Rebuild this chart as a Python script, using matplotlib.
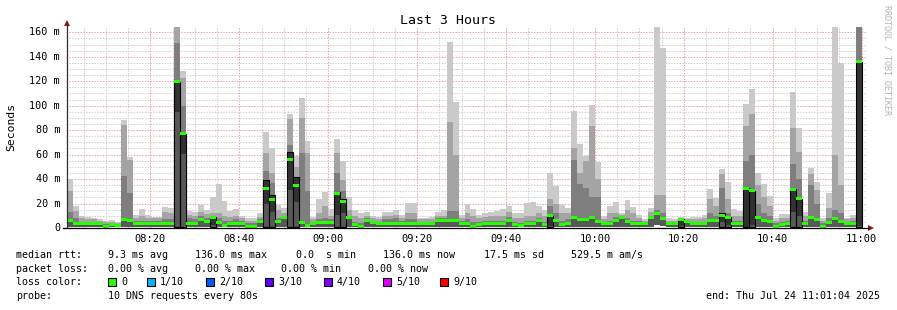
import matplotlib
matplotlib.use("Agg")
import matplotlib.pyplot as plt
from matplotlib.patches import Rectangle, Polygon
from matplotlib.lines import Line2D

# ---------------- data (milliseconds), one bar per 80 s step ----------------
first_bar_minute = 80 / 60          # 08:01:20, minutes after 08:00
step_minutes = 80 / 60
x_start, x_end = 1 + 4 / 60, 181 + 4 / 60   # 08:01:04 .. 11:01:04

rtt_max = [40, 18, 10, 9, 8.5, 7, 6, 6.5, 5, 88, 58, 11, 15.5, 11, 9, 9, 17.4, 16.6, 164, 128.6,
           14, 13.4, 18.8, 14.7, 25.6, 36, 22, 14, 15.5, 10, 8.5, 8.5, 12, 78.5, 65, 18.8, 16.6, 93, 59, 106,
           71, 9.3, 23.4, 29.7, 15.4, 72.8, 54.8, 25.6, 14.7, 12, 13.4, 10, 9, 13.4, 13, 14.4, 10.6, 20.7, 20.7, 8.5,
           8.5, 9, 13.4, 14.4, 152, 103, 10.6, 20, 15.5, 10.6, 12.5, 13.4, 14, 15.5, 18, 12, 12, 20.7, 21.5, 18,
           15, 45, 34, 18.8, 16.6, 95.6, 69, 59, 100.5, 54.2, 9.8, 18, 21.5, 12.5, 23, 17.4, 10.6, 7, 16, 164,
           147.4, 8.4, 7, 9, 8, 9.3, 9.3, 11, 32, 24.8, 48, 38, 15.5, 14, 101.4, 113.6, 44.7, 35.7, 26, 8,
           11.4, 11.4, 111.4, 81.5, 13.4, 49.3, 38, 8.4, 29, 164, 135, 8.4, 10.6, 164]

rtt_p9 = [30, 14, 8, 7, 7, 6, 4.5, 5, 4, 84, 55.6, 8.5, 10, 8, 8.5, 8, 13, 12, 164, 123,
          11, 10, 13.4, 11.4, 12, 12, 10, 9, 10, 8, 6, 6, 9, 61, 45, 14.7, 12, 89, 50, 90,
          61, 7, 12, 18, 10, 61, 39, 15, 10, 8, 10, 8, 7, 10, 10, 11, 8, 12, 12, 7,
          7, 7, 10, 10, 87, 60, 8, 12, 10, 8, 9, 10, 10, 10, 13, 8, 8, 10, 10, 12,
          10, 24, 20, 12, 12, 65.7, 45, 55, 83.4, 40, 7, 12, 12, 11, 15, 12, 8, 6, 13, 27,
          27, 6, 6, 8, 7, 7, 7, 8, 24, 18, 44, 24, 10, 10, 83, 93, 35, 25, 18, 6,
          8, 8, 81.5, 62, 10, 44, 31, 6, 16.6, 60, 35, 7, 8, 164]

rtt_p8 = [13, 8, 5, 5, 5, 5, 3, 4, 3, 42.5, 29, 6, 6, 6, 6, 6, 7, 7, 151, 100,
          8.5, 7, 10, 8, 10, 8, 6, 6, 7, 6, 4, 4, 7, 47, 37, 8, 10, 68, 42, 61,
          30, 5, 7, 8, 7, 45, 30, 10, 5, 4, 8, 6, 5, 7, 7, 8, 6, 7, 7, 5,
          5, 5, 8, 8, 14, 14, 6, 7, 5, 5, 6, 6, 6, 6, 9, 5, 4, 6, 6, 8,
          5, 18, 12, 6, 7, 55.6, 35.7, 33, 25.3, 25, 5, 6, 9, 10, 8, 6, 6, 5, 10, 15,
          12, 5, 5, 7.5, 6, 5, 5, 5, 12, 10, 32.4, 12, 6, 6, 55, 60, 20, 12, 10, 4,
          5, 6, 52, 40, 6, 35, 20, 4, 8, 15, 12, 5, 6, 164]

rtt_median = [5.7, 3.8, 3.8, 3.8, 3.8, 3.8, 1.6, 2.5, 2.2, 6.8, 5.7, 3.8, 3.8, 3.8, 3.8, 3.8, 3.8, 3.8, 119.5, 77,
              3.8, 3.8, 6.8, 5.2, 8.7, 4.3, 2.2, 3.8, 3.8, 3.8, 1.4, 1.5, 5.2, 32, 23.5, 5.2, 8.4, 56, 35, 4.4,
              1.9, 3.3, 4.4, 4.4, 4.4, 28.4, 22, 8.4, 2.5, 1.6, 6.5, 4.6, 3.8, 3.8, 3.8, 3.8, 3.8, 3.8, 3.8, 3.8,
              3.8, 3.8, 6.5, 5.7, 6.5, 5.7, 3.8, 3.8, 1.6, 2.5, 3.8, 3.8, 3.8, 3.8, 6.5, 3, 1.9, 3.8, 3.8, 5.7,
              2.5, 9.8, 6.5, 2.5, 3.8, 8.4, 7, 7, 8.4, 5.2, 3.8, 3.8, 6.5, 8.4, 5.2, 3.8, 3.8, 3.8, 8.4, 11.7,
              7.4, 3.8, 3.8, 7, 5.2, 3.8, 3.8, 3.8, 5.7, 5.7, 10.6, 8.7, 3.8, 3.8, 31.9, 30.5, 8.4, 6, 5.2, 1.6,
              2.5, 3.8, 31.6, 23.7, 3.8, 8.4, 7, 1.6, 4.6, 8, 5.2, 3.8, 3.8, 136]

rtt_min = [0.8, 0.8, 1.0, 0.8, 0.8, 0.5, 0.5, 0.8, 0.5, 1.0, 1.0, 0.8, 0.8, 0.8, 0.8, 0.8, 0.8, 0.8, 1.0, 1.0,
           0.8, 0.8, 1.0, 0.8, 1.0, 0.8, 0.5, 0.8, 0.8, 0.8, 0.5, 0.5, 1.0, 1.0, 1.0, 0.8, 1.0, 1.0, 1.0, 0.8,
           0.5, 0.8, 0.8, 0.8, 0.8, 1.0, 1.0, 1.0, 0.5, 0.5, 1.0, 0.8, 0.8, 0.8, 0.8, 0.8, 0.8, 0.8, 0.8, 0.8,
           0.8, 0.8, 1.0, 1.0, 1.0, 1.0, 0.8, 0.8, 0.5, 0.5, 0.8, 0.8, 0.8, 0.8, 1.0, 0.8, 0.5, 0.8, 0.8, 1.0,
           0.5, 1.0, 1.0, 0.5, 0.8, 1.0, 1.0, 1.0, 1.0, 0.8, 0.8, 0.8, 1.0, 1.0, 0.8, 0.8, 0.8, 0.8, 1.0, 2.5,
           1.5, 0.8, 0.8, 1.0, 0.8, 0.8, 0.8, 0.8, 1.0, 1.0, 1.0, 1.0, 0.8, 0.8, 1.0, 1.0, 1.0, 1.0, 0.8, 0.5,
           0.5, 0.8, 1.0, 1.0, 0.8, 1.0, 1.0, 0.5, 0.8, 1.0, 0.8, 0.8, 0.8, 1.0]

# darkest smoke band (between the two middle pings), by bar index
core_band = {18: (95, 119.5), 19: (60.5, 77), 24: (2.5, 8.7), 33: (20, 39), 34: (13, 27),
             37: (31, 62), 38: (21.5, 42), 45: (10.6, 29.7), 46: (12, 23.4), 81: (2, 10),
             103: (2, 7), 110: (5, 12), 111: (2.5, 8.7), 114: (1.1, 32.4), 115: (2.5, 30.5),
             122: (13.4, 31.6), 123: (10, 24), 133: (2, 136)}

time_ticks = [20, 40, 60, 80, 100, 120, 140, 160, 180]
time_labels = ["08:20", "08:40", "09:00", "09:20", "09:40", "10:00", "10:20", "10:40", "11:00"]
y_ticks = [0, 20, 40, 60, 80, 100, 120, 140, 160]
y_labels = ["0", "20 m", "40 m", "60 m", "80 m", "100 m", "120 m", "140 m", "160 m"]

loss_labels = ["0", "1/10", "2/10", "3/10", "4/10", "5/10", "9/10"]
loss_colors = ["#26ff00", "#00b8ff", "#0059ff", "#5e00ff", "#7e00ff", "#dd00ff", "#ff0000"]

# ---------------- figure ----------------
W, H = 897, 310
MONO = "DejaVu Sans Mono"
fig = plt.figure(figsize=(W / 100, H / 100), dpi=100)
fig.patch.set_facecolor("white")

ax_left, ax_right, ax_bottom, ax_top = 66.3, 866.3, 228, 27.4
ax = fig.add_axes([ax_left / W, 1 - ax_bottom / H, (ax_right - ax_left) / W, (ax_bottom - ax_top) / H])
ax.set_xlim(x_start, x_end)
ax.set_ylim(0, 164)
for s in ax.spines.values():
    s.set_visible(False)
ax.set_xticks([])
ax.set_yticks([])
ax.patch.set_alpha(0)

n = len(rtt_median)
lefts = [first_bar_minute + i * step_minutes for i in range(n)]

# grid
dots = (0, (1.4, 1.4))
for m in range(5, 185, 5):
    if m % 20:
        ax.axvline(m, color="#cfcfcf", lw=0.72, ls=dots, zorder=0)
for v in range(5, 165, 5):
    if v % 20:
        ax.axhline(v, color="#cfcfcf", lw=0.72, ls=dots, zorder=0)
for m in time_ticks:
    ax.axvline(m, color="#f0a0a0", lw=0.72, ls=dots, zorder=0.5)
for v in y_ticks[1:]:
    ax.axhline(v, color="#f0a0a0", lw=0.72, ls=dots, zorder=0.5)

def bands(top, bottom, color, z):
    ax.bar(lefts, [t - b for t, b in zip(top, bottom)], bottom=bottom, width=step_minutes,
           align="edge", color=color, linewidth=0, antialiased=False, zorder=z)

bands(rtt_max, rtt_min, "#cacaca", 2)
bands(rtt_p9, rtt_min, "#a4a4a4", 3)
bands(rtt_p8, rtt_min, "#7e7e7e", 4)
bands(rtt_median, rtt_min, "#585858", 5)

for i, (lo, hi) in core_band.items():
    ax.add_patch(Rectangle((lefts[i], lo), step_minutes, hi - lo, facecolor="#323232",
                           edgecolor="none", linewidth=0, zorder=6))
    ax.add_patch(Rectangle((lefts[i], rtt_min[i]), step_minutes, hi - rtt_min[i], fill=False,
                           edgecolor="#000000", linewidth=0.8, zorder=6.5))

ax.bar(lefts, [2.45] * n, bottom=[m - 1.2 for m in rtt_median], width=step_minutes, align="edge",
       color="#26ff00", linewidth=0, antialiased=False, zorder=7)

# ---------------- axes lines and arrows (figure pixels) ----------------
def fx(x):
    return x / W

def fy(y):
    return 1 - y / H

fig.add_artist(Line2D([fx(67), fx(67)], [fy(228), fy(24)], color="#303030", lw=0.9))
fig.add_artist(Line2D([fx(63), fx(868)], [fy(228), fy(228)], color="#000000", lw=0.9))
fig.add_artist(Polygon([(fx(64), fy(26)), (fx(70), fy(26)), (fx(67), fy(20))], closed=True,
                       facecolor="#8b1a1a", edgecolor="none"))
fig.add_artist(Polygon([(fx(868), fy(225)), (fx(868), fy(231)), (fx(874), fy(228))], closed=True,
                       facecolor="#8b1a1a", edgecolor="none"))

# ticks labels
for m, lab in zip(time_ticks, time_labels):
    xp = ax_left + (m - x_start) / (x_end - x_start) * (ax_right - ax_left)
    fig.text(fx(xp), fy(238.5), lab, ha="center", va="center", fontsize=7.5, family=MONO, color="#000000")
for v, lab in zip(y_ticks, y_labels):
    yp = ax_bottom - v / 164 * (ax_bottom - ax_top)
    fig.text(fx(60), fy(yp), lab, ha="right", va="center", fontsize=7.3, family=MONO, color="#000000")

fig.text(fx(448), fy(20), "Last 3 Hours", ha="center", va="center", fontsize=9.5, family=MONO)
fig.text(fx(11), fy(127), "Seconds", ha="center", va="center", rotation=90, fontsize=8.2, family=MONO)
fig.text(fx(887), fy(60), "RRDTOOL / TOBI OETIKER", ha="center", va="center", rotation=270,
         fontsize=6.0, family=MONO, color="#b4b4b4")

# ---------------- legend block ----------------
LF = 7.2
rows = [
    (255, [(16, "median rtt:"), (108, "9.3 ms avg"), (195, "136.0 ms max"), (296, "0.0  s min"),
           (383, "136.0 ms now"), (484, "17.5 ms sd"), (571, "529.5 m am/s")]),
    (268.5, [(16, "packet loss:"), (108, "0.00 % avg"), (195, "0.00 % max"), (281, "0.00 % min"),
             (368, "0.00 % now")]),
    (282, [(16, "loss color:")]),
    (296, [(16, "probe:"), (108, "10 DNS requests every 80s"), (706, "end: Thu Jul 24 11:01:04 2025")]),
]
for yv, items in rows:
    for xv, t in items:
        fig.text(fx(xv), fy(yv), t, ha="left", va="center", fontsize=LF, family=MONO)

box_x = [108, 147, 206, 265, 324, 383, 440]
for bx, lab, col in zip(box_x, loss_labels, loss_colors):
    fig.add_artist(Rectangle((fx(bx), fy(286)), 8 / W, 8 / H, facecolor=col, edgecolor="#000000",
                             linewidth=0.8, transform=fig.transFigure))
    fig.text(fx(bx + 13), fy(282), lab, ha="left", va="center", fontsize=LF, family=MONO)

fig.savefig("out.png", dpi=100, facecolor="white")
